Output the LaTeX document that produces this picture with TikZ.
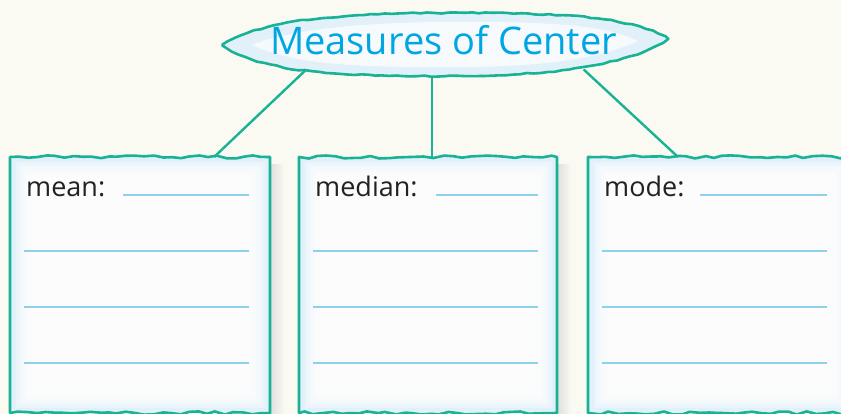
\documentclass[tikz,border=0pt]{standalone}
\usepackage{fontspec}
\setmainfont{Open Sans}
\usetikzlibrary{calc,decorations.pathmorphing,shapes.geometric}
\definecolor{paper}{RGB}{250,249,242}
\definecolor{frame}{RGB}{24,178,148}
\definecolor{titleblue}{RGB}{0,166,226}
\definecolor{rule}{RGB}{140,210,238}
\definecolor{glow}{RGB}{226,240,250}
\definecolor{ink}{RGB}{34,34,34}
\tikzset{
  jag/.style={decoration={random steps,segment length=9pt,amplitude=1.6pt}},
  wobble/.style={decoration={random steps,segment length=7pt,amplitude=0.7pt}},
  framepen/.style={draw=frame,line width=2.6pt,line join=round},
  boxnode/.style={rectangle,minimum height=256pt,inner sep=0pt,outer sep=0pt},
  rulepen/.style={draw=rule,line width=1.3pt},
  labeltext/.style={font=\fontsize{27}{27}\selectfont,text=ink,anchor=base west,inner sep=0pt},
  titletext/.style={font=\fontsize{38}{38}\selectfont,text=titleblue,anchor=base,inner sep=0pt},
  connector/.style={draw=frame,line width=2.4pt},
}
% lemon-shaped outline of the title bubble
\newcommand\lemonpath{(title.west) .. controls +(40,-26) and +(-120,0) .. ($(title.north)+(20,-1)$)
  .. controls +(110,0) and +(-30,-20) .. ($(title.east)+(0,-6)$)
  .. controls +(-40,26) and +(110,0) .. ($(title.south)+(0,0)$)
  .. controls +(-120,0) and +(40,26) .. (title.west) -- cycle}
\begin{document}
\begin{tikzpicture}[x=1pt,y=-1pt]
\pgfmathsetseed{7}
\clip (0,0) rectangle (841,414);
\fill[paper] (0,0) rectangle (841,414);

% title bubble anchor
\node[ellipse,minimum width=446pt,minimum height=62pt,inner sep=0pt] (title) at (445,45) {};

% the three boxes
\foreach \n/\cx/\w/\lab/\gap in {b1/140/260/mean:/113, b2/428/258/median:/137, b3/720/264/mode:/112} {
  \node[boxnode,minimum width=\w pt] (\n) at (\cx,285) {};
  % soft shadow on the right
  \shade[left color=black!14,right color=paper] ($(\n.north east)+(-2,8)$) rectangle ($(\n.south east)+(14,0)$);
  % paper with jagged top and bottom
  \path[framepen,fill=glow] (\n.south west) -- (\n.north west)
    decorate[jag]{-- (\n.north east)} -- (\n.south east)
    decorate[jag]{-- (\n.south west)} -- cycle;
  % light inner glow
  \foreach \i in {1,...,9}
    \fill[white,opacity=0.3] ($(\n.north west)+(3+\i*2.5,3+\i*2.5)$) rectangle ($(\n.south east)+(-3-\i*2.5,-3-\i*2.5)$);
  % label and writing lines
  \node[labeltext] (\n-lab) at ($(\n.north west)+(16,40)$) {\lab};
  \draw[rulepen] ($(\n.north west)+(\gap,38)$) -- ($(\n.north west)+(239,38)$);
  \foreach \yy in {94,150,206}
    \draw[rulepen] ($(\n.north west)+(14,\yy)$) -- ($(\n.north west)+(239,\yy)$);
}

% connectors from the title to the boxes
\coordinate (title-foot) at ($(title.south)+(-13,0)$);
\draw[connector] (title.190) -- ($(b1.north west)!0.785!(b1.north east)$);
\draw[connector] (title-foot) -- (title-foot |- b2.north);
\draw[connector] (title.350) -- ($(b3.north west)+(90,0)$);

% title bubble
\fill[black,opacity=0.07,shift={(2,4)}] \lemonpath;
\path[framepen,fill=glow,decorate,wobble] \lemonpath;
\path[fill=white,opacity=0.7] ($(title.west)+(30,0)$) .. controls +(40,-16) and +(-100,0) .. ($(title.north)+(20,8)$)
  .. controls +(100,0) and +(-30,-14) .. ($(title.east)+(-30,-4)$)
  .. controls +(-40,18) and +(100,0) .. ($(title.south)+(0,-9)$)
  .. controls +(-100,0) and +(40,18) .. ($(title.west)+(30,0)$) -- cycle;
\node[titletext] (title-text) at (443.5,55) {Measures of Center};
\end{tikzpicture}
\end{document}
